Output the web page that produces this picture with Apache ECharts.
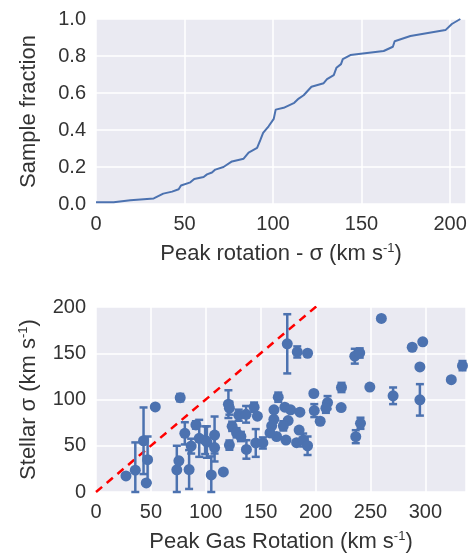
<!DOCTYPE html>
<html><head><meta charset="utf-8">
<script src="https://cdn.jsdelivr.net/npm/echarts@6/dist/echarts.min.js"></script>
<style>html,body{margin:0;padding:0;background:#fff}#c{width:474px;height:555px}</style>
</head><body><div id="c"></div>
<script>
var cdfX=[0,10,19.4,32.6,38,43,46.7,48,53.3,55.5,60.8,62.7,65.5,67.4,72,76.8,83.4,86.2,91,92.8,94.4,97.5,100.4,101.5,106,112,114.5,117.3,121.7,128.6,130.5,134.3,135.8,138.4,139.4,143.7,162.5,167.7,168.7,177.6,197.4,201,205.8];
var cdfY=[0.01,0.01,0.02,0.03,0.056,0.067,0.08,0.1,0.117,0.135,0.146,0.16,0.17,0.186,0.2,0.23,0.245,0.278,0.303,0.345,0.384,0.42,0.46,0.51,0.52,0.547,0.57,0.588,0.634,0.653,0.675,0.697,0.736,0.756,0.783,0.805,0.827,0.85,0.88,0.908,0.94,0.973,1.0];
var gasRot=[27.3,35.8,43.3,47,45.8,54,76.7,73.6,75.5,80.9,84.8,86.7,91,94,99.4,101,105,108,108,116,120.6,121.5,121.5,124,128,130,132,136.7,137,144,147,145.5,152,
174.2,183.3,192.7,259.9,288,297.6,235.7,240.2,295,333.8,323.6,198.4,223.6,249.4,270.6,295,210.9,209.4,198.8,223.3,204.2,240.9,236.6,166,162.1,172,177.3,185.7,162,175,170.6,160,164.5,173,182.7,185,188.7,192.7,158.5];
var sigma=[17.4,23.6,55.4,35,9.8,92,102,24,33.7,63.4,24.3,49.6,72.5,58,56,54,18.5,61.6,48,21.7,95,90.6,50.7,71,64,83,60,84,46,91.7,82,53,53,
160.2,151.4,150,187.7,156.5,162.3,146.8,150.3,135.2,136.6,121.4,106.5,113,113.4,104,99.6,96.7,90.6,88,91.3,76.5,74.3,59.8,102.5,88.8,91.7,88.8,86.3,78.6,77.2,71.5,71.5,60,56.2,53.3,67,56.2,50,63.9];
var sigmaErr=[0,30,36,25,0,0,4,26,0,12,21,8,4,20,15,17,20,20,15,0,15,7,5,5,5,6,5,9,10,5,0,15,6,
32,6,0,0,0,0,8,5,0,5,0,0,5,0,9,17,7,5,7,0,0,6,7,5,0,0,0,0,0,0,5,0,0,0,0,0,7,10,0];
var C='#4c72b0', T='#333', F='Liberation Sans';
var pts=gasRot.map(function(x,i){return [x,sigma[i],sigmaErr[i]];});
var cdf=cdfX.map(function(x,i){return [x,cdfY[i]];});
var rich={s:{fontSize:13,verticalAlign:'top',padding:[0,0,10,0],color:T,fontFamily:F}};
function lab(o){return Object.assign({color:T,fontSize:20,fontFamily:F,margin:10},o||{});}
var nts={color:T,fontSize:22,fontFamily:F,rich:rich};
function A(o){return Object.assign({axisLine:{show:false},axisTick:{show:false},splitLine:{lineStyle:{color:'#fff',width:1.5}},axisLabel:lab(),nameTextStyle:nts,nameLocation:'middle'},o);}
var opt={animation:false,
grid:[{left:96,right:8,top:19,height:185,backgroundColor:'#eaeaf2',show:true,borderWidth:0},
      {left:96,right:8,top:307,height:185,backgroundColor:'#eaeaf2',show:true,borderWidth:0}],
xAxis:[A({gridIndex:0,type:'value',min:0,max:209,interval:50,name:'Peak rotation - σ (km s{s|-1})',nameGap:38,axisLabel:lab({showMaxLabel:false})}),
       A({gridIndex:1,type:'value',min:0,max:337,interval:50,name:'Peak Gas Rotation (km s{s|-1})',nameGap:38,axisLabel:lab({showMaxLabel:false})})],
yAxis:[A({gridIndex:0,type:'value',min:0,max:1,interval:0.2,name:'Sample fraction',nameGap:56,axisLabel:lab({formatter:function(v){return v.toFixed(1);}})}),
       A({gridIndex:1,type:'value',min:0,max:200,interval:50,name:'Stellar σ (km s{s|-1})',nameGap:56})],
series:[
{type:'line',xAxisIndex:0,yAxisIndex:0,data:cdf,showSymbol:false,lineStyle:{color:C,width:2}},
{type:'line',xAxisIndex:1,yAxisIndex:1,data:[[0,0],[337,337]],showSymbol:false,lineStyle:{color:'#f00',width:2.5,type:[8,6]},z:1},
{type:'custom',xAxisIndex:1,yAxisIndex:1,data:pts,z:3,renderItem:function(p,api){
  var x=api.value(0),y=api.value(1),e=api.value(2);
  if(!e)return {type:'group',children:[]};
  var a=api.coord([x,y+e]),b=api.coord([x,Math.max(0,y-e)]);
  var st={stroke:C,lineWidth:2.5};
  return {type:'group',children:[
   {type:'line',shape:{x1:a[0],y1:a[1],x2:b[0],y2:b[1]},style:st},
   {type:'line',shape:{x1:a[0]-4,y1:a[1],x2:a[0]+4,y2:a[1]},style:st},
   {type:'line',shape:{x1:b[0]-4,y1:b[1],x2:b[0]+4,y2:b[1]},style:st}]};
 }},
{type:'scatter',xAxisIndex:1,yAxisIndex:1,data:pts.map(function(p){return [p[0],p[1]];}),symbolSize:11,itemStyle:{color:C,opacity:1},z:4}
]};
echarts.init(document.getElementById('c')).setOption(opt);
</script></body></html>
